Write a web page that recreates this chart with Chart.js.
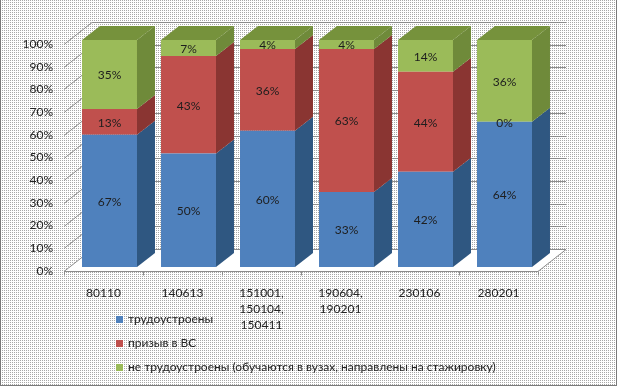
<!DOCTYPE html>
<html>
<head>
<meta charset="utf-8">
<script src="https://cdn.jsdelivr.net/npm/chart.js@4.4.0/dist/chart.umd.min.js"></script>
<style>
html, body { margin: 0; padding: 0; background: #fff; }
#wrap { position: relative; width: 617px; height: 386px; }
#chart { position: absolute; left: 0; top: 0; }
.leg { position: absolute; left: 116px; font: 12px Lato, sans-serif; color: #222; white-space: nowrap; line-height: 16px; }
.leg i { display: inline-block; width: 7px; height: 7px; margin-right: 5px; vertical-align: 0px; }
</style>
</head>
<body>
<div id="wrap">
  <canvas id="chart" width="617" height="386"></canvas>
  <div id="legend"></div>
</div>
<script>
// данные
const categories = [['80110'], ['140613'], ['151001,', '150104,', '150411'], ['190604,', '190201'], ['230106'], ['280201']];
const employed = [67, 50, 60, 33, 42, 64];
const army = [13, 43, 36, 63, 44, 0];
const notEmployed = [35, 7, 4, 4, 14, 36];
const seriesNames = ['трудоустроены', 'призыв в ВС', 'не трудоустроены (обучаются в вузах, направлены на стажировку)'];
const yTicks = [0, 10, 20, 30, 40, 50, 60, 70, 80, 90, 100];

const raw = [employed, army, notEmployed];
const totals = categories.map((c, i) => employed[i] + army[i] + notEmployed[i]);

// цвета: лицевая грань, боковая, верх
const colors = [
    { front: '#4f81bd', side: '#2f5781', top: '#3c6a9e' },
    { front: '#c0504d', side: '#8a3532', top: '#a34441' },
    { front: '#9bbb59', side: '#6f8a3a', top: '#76923c' }
];

const wall = { dx: 28, dy: 22, off: 4 };
const bar3d = { dx: 18, dy: 14, shift: 6 };

// фон с точками
const pat = document.createElement('canvas');
pat.width = 2; pat.height = 2;
const pctx = pat.getContext('2d');
pctx.fillStyle = '#fff'; pctx.fillRect(0, 0, 2, 2);
pctx.fillStyle = '#a8a8a8'; pctx.fillRect(0, 0, 1, 1);

const background = {
    id: 'background',
    beforeDraw(chart) {
        const c = chart.ctx;
        c.save();
        c.fillStyle = c.createPattern(pat, 'repeat');
        c.fillRect(0, 0, chart.width, chart.height);
        c.fillStyle = '#7a7a7a';
        c.fillRect(0, 0, 1, chart.height);
        c.fillRect(chart.width - 1, 0, 1, chart.height);
        c.fillRect(0, chart.height - 1, chart.width, 1);
        c.restore();
    }
};

const walls = {
    id: 'walls',
    beforeDatasetsDraw(chart) {
        const c = chart.ctx, a = chart.chartArea, y = chart.scales.y;
        const fy = a.bottom + wall.off;
        c.save();
        // пол
        c.fillStyle = '#fff';
        c.beginPath();
        c.moveTo(a.left, fy);
        c.lineTo(a.right, fy);
        c.lineTo(a.right + wall.dx, fy - wall.dy);
        c.lineTo(a.left + wall.dx, fy - wall.dy);
        c.closePath();
        c.fill();
        // сетка на стенках
        c.strokeStyle = '#8c8c8c';
        c.lineWidth = 1;
        c.beginPath();
        yTicks.forEach(v => {
            const yy = Math.round(y.getPixelForValue(v) + wall.off) + 0.5;
            c.moveTo(a.left, yy);
            c.lineTo(a.left + wall.dx, yy - wall.dy);
            c.lineTo(a.right + wall.dx, yy - wall.dy);
        });
        // ось X
        const by = Math.round(fy) + 0.5;
        c.moveTo(a.left, by);
        c.lineTo(a.right, by);
        c.lineTo(a.right + wall.dx, by - wall.dy);
        const step = (a.right - a.left) / categories.length;
        for (let i = 0; i <= categories.length; i++) {
            const xx = Math.round(a.left + i * step) + 0.5;
            c.moveTo(xx, by);
            c.lineTo(xx, by + 4);
        }
        c.stroke();
        c.restore();

        c.save();
        c.translate(bar3d.shift, 0);
    },
    afterDatasetsDraw(chart) {
        const c = chart.ctx;
        const metas = chart.data.datasets.map((d, i) => chart.getDatasetMeta(i));
        // боковые грани
        metas.forEach((m, di) => {
            m.data.forEach(el => {
                const p = el.getProps(['x', 'y', 'base', 'width'], true);
                if (Math.abs(p.base - p.y) < 0.5) return;
                const r = p.x + p.width / 2;
                c.fillStyle = colors[di].side;
                c.beginPath();
                c.moveTo(r, p.y);
                c.lineTo(r + bar3d.dx, p.y - bar3d.dy);
                c.lineTo(r + bar3d.dx, p.base - bar3d.dy);
                c.lineTo(r, p.base);
                c.closePath();
                c.fill();
            });
        });
        // верхняя грань
        categories.forEach((cat, i) => {
            let best = null, bi = 0;
            metas.forEach((m, di) => {
                if (raw[di][i] > 0) {
                    const p = m.data[i].getProps(['x', 'y', 'base', 'width'], true);
                    if (!best || p.y < best.y) { best = p; bi = di; }
                }
            });
            if (!best) return;
            const l = best.x - best.width / 2, r = best.x + best.width / 2;
            c.fillStyle = colors[bi].top;
            c.beginPath();
            c.moveTo(l, best.y);
            c.lineTo(r, best.y);
            c.lineTo(r + bar3d.dx, best.y - bar3d.dy);
            c.lineTo(l + bar3d.dx, best.y - bar3d.dy);
            c.closePath();
            c.fill();
        });
        // подписи
        c.font = '12px Lato, sans-serif';
        c.fillStyle = '#1e1e1e';
        c.textAlign = 'center';
        c.textBaseline = 'middle';
        metas.forEach((m, di) => {
            m.data.forEach((el, i) => {
                const p = el.getProps(['x', 'y', 'base'], true);
                c.fillText(raw[di][i] + '%', p.x, (p.y + p.base) / 2 + 1);
            });
        });
        c.restore();
    }
};

new Chart(document.getElementById('chart'), {
    type: 'bar',
    data: {
        labels: categories,
        datasets: raw.map((vals, di) => ({
            label: seriesNames[di],
            data: vals.map((v, i) => v / totals[i] * 100),
            backgroundColor: colors[di].front,
            borderWidth: 0,
            categoryPercentage: 1,
            barPercentage: 0.696,
            clip: false
        }))
    },
    options: {
        responsive: false,
        animation: false,
        events: [],
        layout: { padding: { left: 0, top: 40, right: 79, bottom: 0 } },
        plugins: { legend: { display: false }, tooltip: { enabled: false } },
        scales: {
            x: {
                stacked: true,
                grid: { display: false, drawTicks: false },
                border: { display: false },
                ticks: { padding: 18, color: '#222', font: { family: 'Lato', size: 12, lineHeight: 16 / 12 }, maxRotation: 0, autoSkip: false },
                afterFit(s) { s.height = 119; }
            },
            y: {
                stacked: true,
                min: 0, max: 100,
                grid: { display: false, drawTicks: false },
                border: { display: false },
                ticks: { stepSize: 10, padding: 11, labelOffset: 4, color: '#222', font: { family: 'Lato', size: 12 }, callback: v => v + '%' },
                afterFit(s) { s.width = 64; }
            }
        }
    },
    plugins: [background, walls]
});

// легенда
const legend = document.getElementById('legend');
const legendTops = [311, 335, 359];
seriesNames.forEach((name, i) => {
    const d = document.createElement('div');
    d.className = 'leg';
    d.style.top = legendTops[i] + 'px';
    d.innerHTML = '<i style="background:' + colors[i].front + '"></i>';
    d.appendChild(document.createTextNode(name));
    legend.appendChild(d);
});
</script>
</body>
</html>
